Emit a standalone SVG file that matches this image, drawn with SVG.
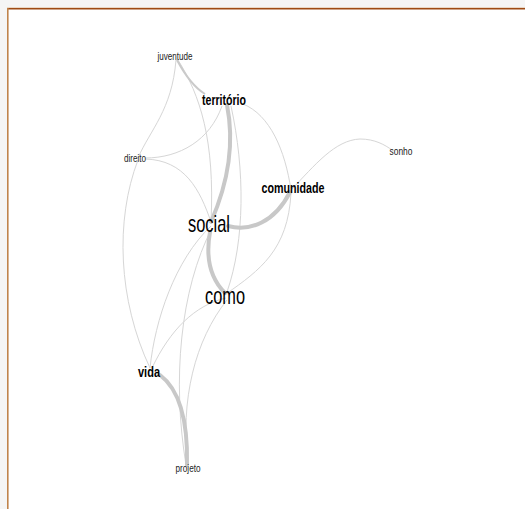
<svg xmlns="http://www.w3.org/2000/svg" width="525" height="509" viewBox="0 0 525 509">
<style>
.e{fill:none;stroke:#d6d6d6;stroke-width:1}
.m{fill:none;stroke:#cacaca;stroke-width:2}
.t{fill:none;stroke:#c8c8c8;stroke-width:4;stroke-linecap:round}
text{font-family:"Liberation Sans",Arial,sans-serif;text-anchor:middle}
.s{font-size:10px;fill:#222}
.b{font-size:15px;font-weight:bold;fill:#000}
.l{font-size:24px;fill:#000}
</style>
<rect x="0" y="0" width="525" height="509" fill="#f5f5f5"/>
<rect x="8" y="9" width="517" height="500" fill="#ffffff"/>
<line x1="7" y1="7.5" x2="525" y2="7.5" stroke="#ead8c6" stroke-width="1"/>
<line x1="7" y1="8.8" x2="525" y2="8.8" stroke="#9e4a14" stroke-width="1.6"/>
<line x1="7.8" y1="8" x2="7.8" y2="509" stroke="#c0844c" stroke-width="1.6"/>
<g id="edges">
<path class="e" d="M176,60 C172,110 150,130 138,158"/>
<path class="e" d="M178,60 C200,95 215,140 211,222"/>
<path class="e" d="M145,158 C180,158 210,140 222,106"/>
<path class="e" d="M145,159 C185,160 200,190 211,222"/>
<path class="e" d="M138,160 C115,220 118,300 150,368"/>
<path class="e" d="M243,104 C270,115 285,150 291,190"/>
<path class="e" d="M231,106 C245,170 245,240 227,292"/>
<path class="e" d="M291,193 C288,250 260,270 226,294"/>
<path class="e" d="M291,190 C315,165 335,140 360,139 C375,139 385,145 392,150"/>
<path class="e" d="M211,226 C175,260 155,320 150,368"/>
<path class="e" d="M226,298 C195,305 170,330 152,368"/>
<path class="e" d="M212,228 C180,290 172,380 186,465"/>
<path class="e" d="M227,300 C195,340 180,400 188,465"/>
<path class="m" d="M177,60 C185,75 195,88 205,94"/>
<path class="t" d="M227,105 C236,150 225,190 211,222"/>
<path class="t" d="M228,226 C250,232 275,222 290,192"/>
<path class="t" d="M210,232 C205,260 212,280 225,293"/>
<path class="t" d="M160,375 C180,390 188,420 187,465"/>
</g>
<g id="juventude"><text class="s" x="175" y="60" textLength="35" lengthAdjust="spacingAndGlyphs">juventude</text></g>
<g id="territorio"><text class="b" x="224" y="105" textLength="44" lengthAdjust="spacingAndGlyphs">território</text></g>
<g id="direito"><text class="s" x="135" y="162" textLength="22" lengthAdjust="spacingAndGlyphs">direito</text></g>
<g id="comunidade"><text class="b" x="293" y="193" textLength="63" lengthAdjust="spacingAndGlyphs">comunidade</text></g>
<g id="sonho"><text class="s" x="401" y="155" textLength="23" lengthAdjust="spacingAndGlyphs">sonho</text></g>
<g id="social"><text class="l" x="209" y="232" textLength="42" lengthAdjust="spacingAndGlyphs">social</text></g>
<g id="como"><text class="l" x="225" y="304" textLength="40" lengthAdjust="spacingAndGlyphs">como</text></g>
<g id="vida"><text class="b" x="149" y="377" textLength="22" lengthAdjust="spacingAndGlyphs">vida</text></g>
<g id="projeto"><text class="s" x="188" y="472" textLength="25" lengthAdjust="spacingAndGlyphs">projeto</text></g>
</svg>
